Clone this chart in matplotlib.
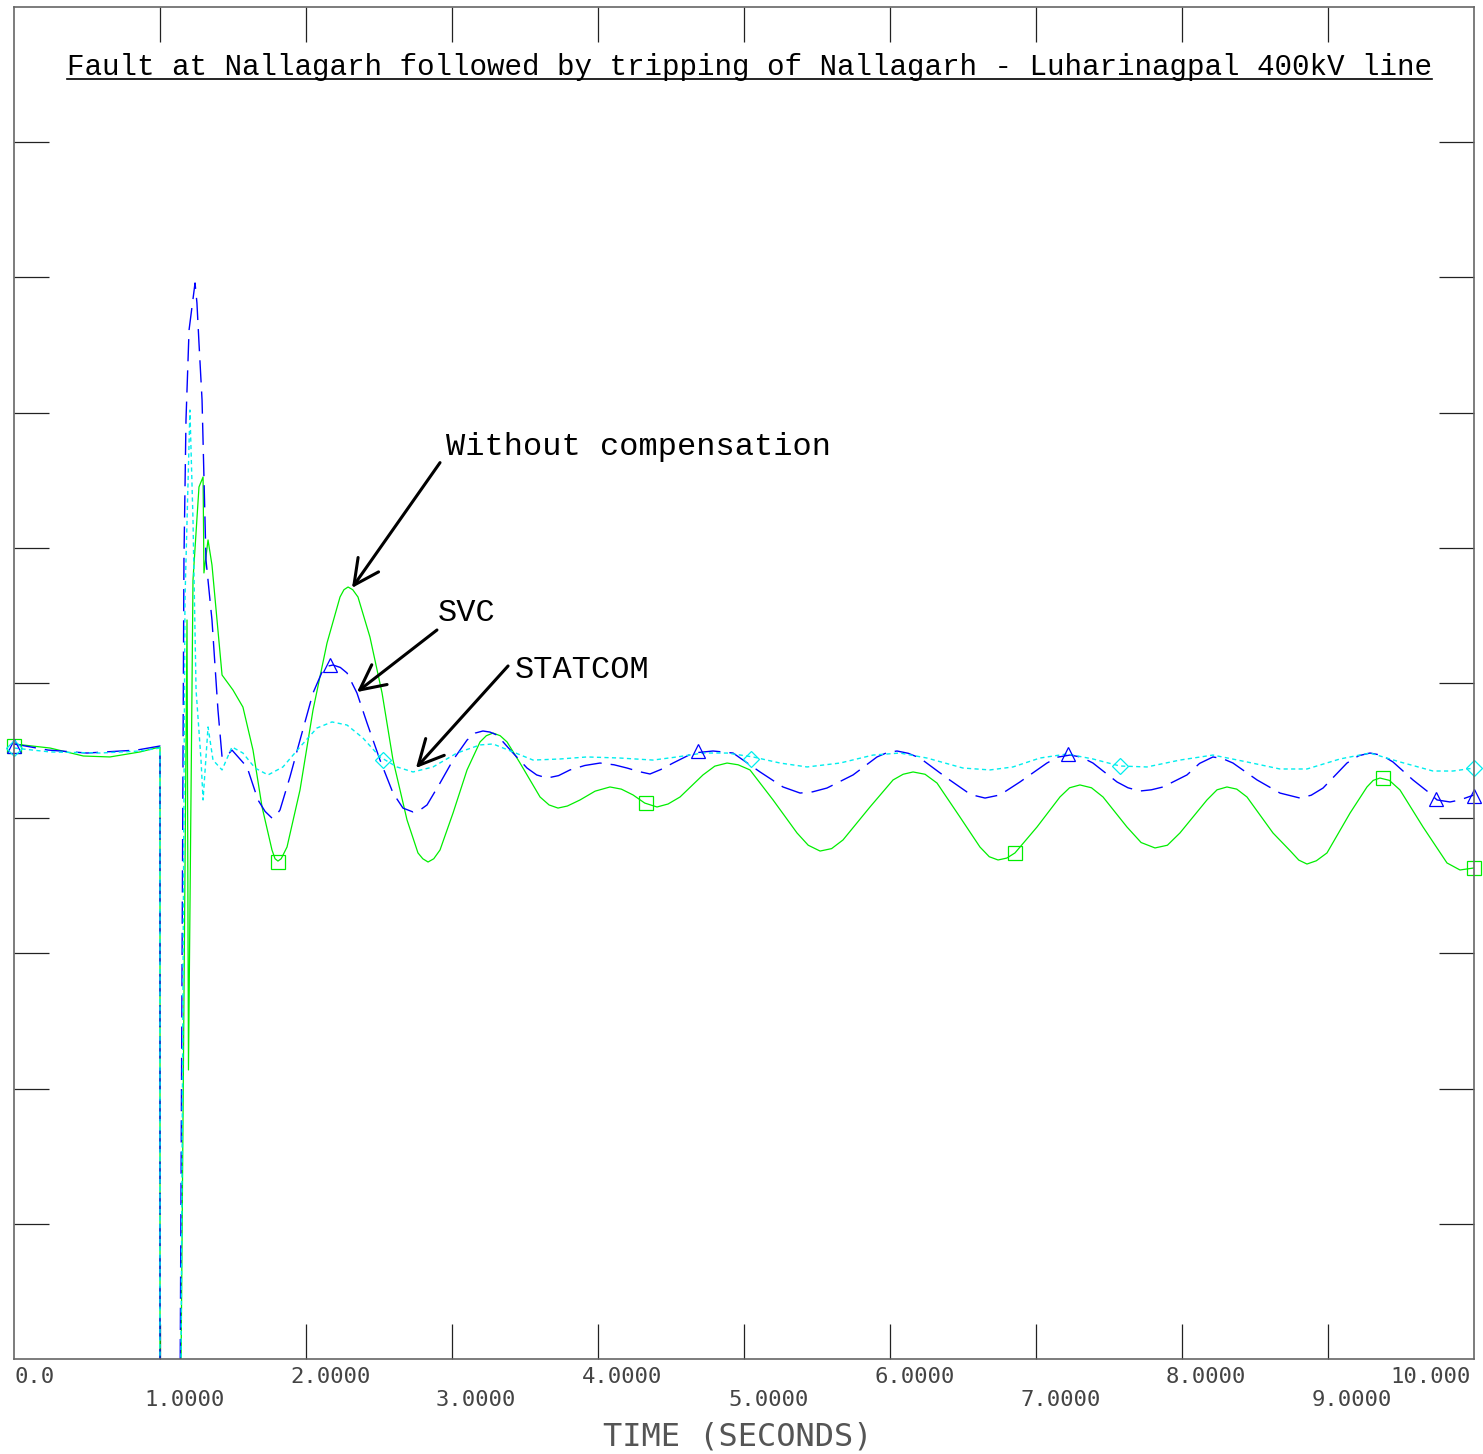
import matplotlib
matplotlib.use("Agg")
import matplotlib.pyplot as plt
from matplotlib.lines import Line2D

# green - without compensation
t_nocomp = [0.000, 0.247, 0.475, 0.657, 0.863, 1.000, 1.000, 1.130, 1.164, 1.185, 1.195, 1.226,
            1.267, 1.295, 1.301, 1.329, 1.356, 1.425, 1.500, 1.568, 1.637, 1.699, 1.767, 1.788,
            1.808, 1.830, 1.870, 1.959, 2.048, 2.144, 2.233, 2.260, 2.288, 2.320, 2.356, 2.438,
            2.521, 2.596, 2.692, 2.767, 2.800, 2.836, 2.875, 2.918, 3.007, 3.103, 3.192, 3.235,
            3.281, 3.330, 3.377, 3.466, 3.603, 3.665, 3.726, 3.790, 3.877, 3.980, 4.082, 4.160,
            4.240, 4.320, 4.404, 4.480, 4.562, 4.719, 4.800, 4.884, 4.960, 5.041, 5.199, 5.363,
            5.440, 5.521, 5.600, 5.678, 5.863, 6.021, 6.090, 6.158, 6.240, 6.322, 6.479, 6.616,
            6.680, 6.740, 6.800, 6.856, 7.007, 7.164, 7.230, 7.301, 7.380, 7.459, 7.623, 7.720,
            7.815, 7.900, 7.986, 8.171, 8.240, 8.308, 8.375, 8.445, 8.623, 8.740, 8.800, 8.856,
            8.920, 8.993, 9.151, 9.267, 9.310, 9.356, 9.420, 9.493, 9.651, 9.815, 9.904, 10.000]
v_nocomp = [4.549, 4.519, 4.460, 4.453, 4.490, 4.527, -2.0, -2.0, 2.655, 5.466, 2.138, 5.762,
            6.450, 6.524, 5.814, 6.058, 5.873, 5.059, 4.948, 4.822, 4.504, 4.083, 3.765, 3.700,
            3.683, 3.700, 3.787, 4.209, 4.800, 5.296, 5.636, 5.690, 5.710, 5.690, 5.636, 5.340,
            4.926, 4.430, 3.987, 3.743, 3.700, 3.676, 3.700, 3.765, 4.038, 4.357, 4.564, 4.610,
            4.630, 4.610, 4.564, 4.408, 4.157, 4.098, 4.075, 4.090, 4.135, 4.200, 4.231, 4.215,
            4.172, 4.112, 4.083, 4.105, 4.157, 4.320, 4.385, 4.408, 4.395, 4.357, 4.135, 3.891,
            3.800, 3.757, 3.775, 3.839, 4.083, 4.283, 4.325, 4.342, 4.325, 4.260, 4.009, 3.787,
            3.715, 3.691, 3.705, 3.743, 3.935, 4.157, 4.225, 4.246, 4.225, 4.157, 3.935, 3.820,
            3.780, 3.800, 3.891, 4.135, 4.210, 4.231, 4.215, 4.157, 3.891, 3.760, 3.690, 3.661,
            3.685, 3.743, 4.038, 4.231, 4.280, 4.297, 4.280, 4.209, 3.935, 3.669, 3.617, 3.632]

# blue - SVC
t_svc = [0.000, 0.233, 0.500, 0.842, 1.000, 1.000, 1.130, 1.164, 1.178, 1.199, 1.240, 1.253,
         1.267, 1.288, 1.301, 1.315, 1.356, 1.397, 1.425, 1.452, 1.493, 1.596, 1.671, 1.720,
         1.767, 1.795, 1.822, 1.890, 1.959, 2.048, 2.116, 2.150, 2.185, 2.235, 2.281, 2.349,
         2.418, 2.507, 2.596, 2.664, 2.733, 2.780, 2.829, 2.918, 3.007, 3.103, 3.160, 3.212,
         3.260, 3.308, 3.418, 3.514, 3.580, 3.651, 3.730, 3.808, 3.910, 4.014, 4.110, 4.199,
         4.280, 4.356, 4.430, 4.514, 4.651, 4.788, 4.925, 5.110, 5.267, 5.384, 5.470, 5.568,
         5.747, 5.911, 5.980, 6.048, 6.125, 6.205, 6.390, 6.527, 6.590, 6.651, 6.753, 6.890,
         7.075, 7.150, 7.233, 7.310, 7.390, 7.555, 7.630, 7.712, 7.790, 7.870, 8.034, 8.120,
         8.212, 8.280, 8.349, 8.514, 8.671, 8.808, 8.885, 8.966, 9.130, 9.210, 9.288, 9.370,
         9.445, 9.582, 9.678, 9.747, 9.836, 9.904, 10.000]
v_svc = [4.549, 4.504, 4.482, 4.504, 4.534, -2.0, -2.0, 5.910, 6.945, 7.611, 7.959, 7.811,
         7.515, 7.093, 6.524, 5.910, 5.466, 4.800, 4.453, 4.453, 4.504, 4.379, 4.135, 4.050,
         4.001, 4.020, 4.061, 4.305, 4.578, 4.926, 5.096, 5.125, 5.133, 5.115, 5.074, 4.926,
         4.704, 4.430, 4.186, 4.075, 4.046, 4.060, 4.098, 4.260, 4.430, 4.578, 4.630, 4.645,
         4.637, 4.615, 4.482, 4.371, 4.320, 4.297, 4.315, 4.357, 4.390, 4.408, 4.395, 4.371,
         4.345, 4.327, 4.360, 4.408, 4.482, 4.497, 4.482, 4.342, 4.231, 4.186, 4.195, 4.223,
         4.320, 4.453, 4.485, 4.497, 4.480, 4.445, 4.297, 4.194, 4.165, 4.149, 4.172, 4.268,
         4.408, 4.452, 4.467, 4.452, 4.408, 4.268, 4.225, 4.201, 4.210, 4.231, 4.320, 4.405,
         4.453, 4.440, 4.408, 4.283, 4.186, 4.149, 4.170, 4.223, 4.408, 4.462, 4.482, 4.465,
         4.416, 4.283, 4.201, 4.135, 4.120, 4.135, 4.172]

# cyan - STATCOM
t_stat = [0.000, 0.247, 0.589, 0.863, 1.000, 1.000, 1.130, 1.144, 1.171, 1.205, 1.226, 1.247,
          1.281, 1.295, 1.329, 1.363, 1.425, 1.493, 1.568, 1.651, 1.740, 1.842, 1.959, 2.075,
          2.178, 2.281, 2.390, 2.507, 2.623, 2.733, 2.870, 3.034, 3.192, 3.281, 3.418, 3.555,
          3.740, 3.925, 4.151, 4.377, 4.541, 4.719, 4.884, 5.062, 5.247, 5.432, 5.658, 5.884,
          6.068, 6.253, 6.500, 6.685, 6.842, 7.027, 7.212, 7.390, 7.575, 7.760, 7.986, 8.212,
          8.445, 8.671, 8.856, 9.082, 9.288, 9.493, 9.719, 9.856, 10.000]
v_stat = [4.519, 4.490, 4.482, 4.497, 4.519, -2.0, -2.0, 0.000, 5.614, 7.019, 6.206, 4.948,
          4.430, 4.135, 4.675, 4.430, 4.357, 4.527, 4.482, 4.371, 4.320, 4.379, 4.527, 4.667,
          4.712, 4.689, 4.593, 4.453, 4.379, 4.342, 4.379, 4.482, 4.542, 4.549, 4.490, 4.430,
          4.438, 4.453, 4.445, 4.430, 4.453, 4.482, 4.482, 4.453, 4.408, 4.379, 4.408, 4.467,
          4.482, 4.445, 4.371, 4.357, 4.379, 4.445, 4.475, 4.438, 4.386, 4.379, 4.430, 4.467,
          4.416, 4.364, 4.364, 4.438, 4.482, 4.416, 4.349, 4.349, 4.371]

# marker positions
t_sq = [0.0, 1.808, 4.329, 6.856, 9.377, 10.0]
v_sq = [4.534, 3.676, 4.112, 3.743, 4.297, 3.632]
t_tri = [0.0, 2.164, 4.685, 7.219, 9.740, 10.0]
v_tri = [4.534, 5.133, 4.497, 4.475, 4.142, 4.164]
t_dia = [0.0, 2.527, 5.048, 7.575, 10.0]
v_dia = [4.519, 4.430, 4.438, 4.386, 4.371]

x_ticklabels = ["0.0", "1.0000", "2.0000", "3.0000", "4.0000", "5.0000",
                "6.0000", "7.0000", "8.0000", "9.0000", "10.000"]

title = "Fault at Nallagarh followed by tripping of Nallagarh - Luharinagpal 400kV line"

plt.rcParams['lines.scale_dashes'] = False

fig = plt.figure(figsize=(14.83, 14.54), dpi=100)
ax = fig.add_axes([14 / 1483, 95 / 1454, 1460 / 1483, 1352 / 1454])
ax.set_xlim(0, 10)
ax.set_ylim(0, 10)

ax.plot(t_nocomp, v_nocomp, color='#00ee00', lw=0.9)
ax.plot(t_svc, v_svc, color='#0000ff', lw=1.0, dashes=(16, 6.5))
ax.plot(t_stat, v_stat, color='#00eeee', lw=1.0, dashes=(3, 2.4))

ax.plot(t_sq, v_sq, ls='none', marker='s', ms=10, mfc='none', mec='#00ee00', mew=0.9, clip_on=False)
ax.plot(t_tri, v_tri, ls='none', marker='^', ms=10, mfc='none', mec='#0000ff', mew=0.9, clip_on=False)
ax.plot(t_dia, v_dia, ls='none', marker='D', ms=8, mfc='none', mec='#00eeee', mew=0.9, clip_on=False)

# ticks inside on all four sides, no tick labels
ax.set_xticks(range(1, 10))
ax.set_yticks(range(1, 10))
ax.set_xticklabels([])
ax.set_yticklabels([])
ax.tick_params(direction='in', length=25, width=0.9, color='#222222',
               top=True, right=True, bottom=True, left=True)
for s in ax.spines.values():
    s.set_color('#666666')
    s.set_linewidth(1.2)

# staggered x labels
for i, lab in enumerate(x_ticklabels):
    if i == 0:
        ha, dx = 'left', 0
    elif i == 10:
        ha, dx = 'right', -3
    else:
        ha, dx = 'left', -16
    dy = -8 if i % 2 == 0 else -31
    ax.annotate(lab, xy=(i, 0), xycoords=('data', 'axes fraction'),
                xytext=(dx, dy), textcoords='offset pixels', ha=ha, va='top',
                family='DejaVu Sans Mono', fontsize=16, color='#444444', annotation_clip=False)

ax.annotate("TIME (SECONDS)", xy=(0.496, 0), xycoords='axes fraction',
            xytext=(0, -78), textcoords='offset pixels', ha='center', va='center',
            family='DejaVu Sans Mono', fontsize=23, color='#555555', annotation_clip=False)

tt = ax.text(0.504, 0.9555, title, transform=ax.transAxes, ha='center', va='center',
             family='Liberation Mono', fontsize=21.1, color='black')

# arrows and labels
arr = dict(arrowstyle='->,head_length=0.9,head_width=0.45', lw=2.2, color='black',
           mutation_scale=20, shrinkA=0, shrinkB=0)
ax.annotate('', xy=(2.315, 5.703), xytext=(2.918, 6.63), arrowprops=arr)
ax.annotate('', xy=(2.349, 4.933), xytext=(2.897, 5.392), arrowprops=arr)
ax.annotate('', xy=(2.753, 4.371), xytext=(3.384, 5.126), arrowprops=arr)
ax.text(2.959, 6.746, "Without compensation", ha='left', va='center',
        family='Liberation Mono', fontsize=23)
ax.text(2.904, 5.518, "SVC", ha='left', va='center', family='Liberation Mono', fontsize=23)
ax.text(3.432, 5.096, "STATCOM", ha='left', va='center', family='Liberation Mono', fontsize=23)

# underline the title
fig.canvas.draw()
bb = tt.get_window_extent()
y_ul = bb.y0 + 2
fig.add_artist(Line2D([bb.x0, bb.x1], [y_ul, y_ul], transform=None, color='black', lw=1.2))

fig.savefig('out.png', dpi=100)
